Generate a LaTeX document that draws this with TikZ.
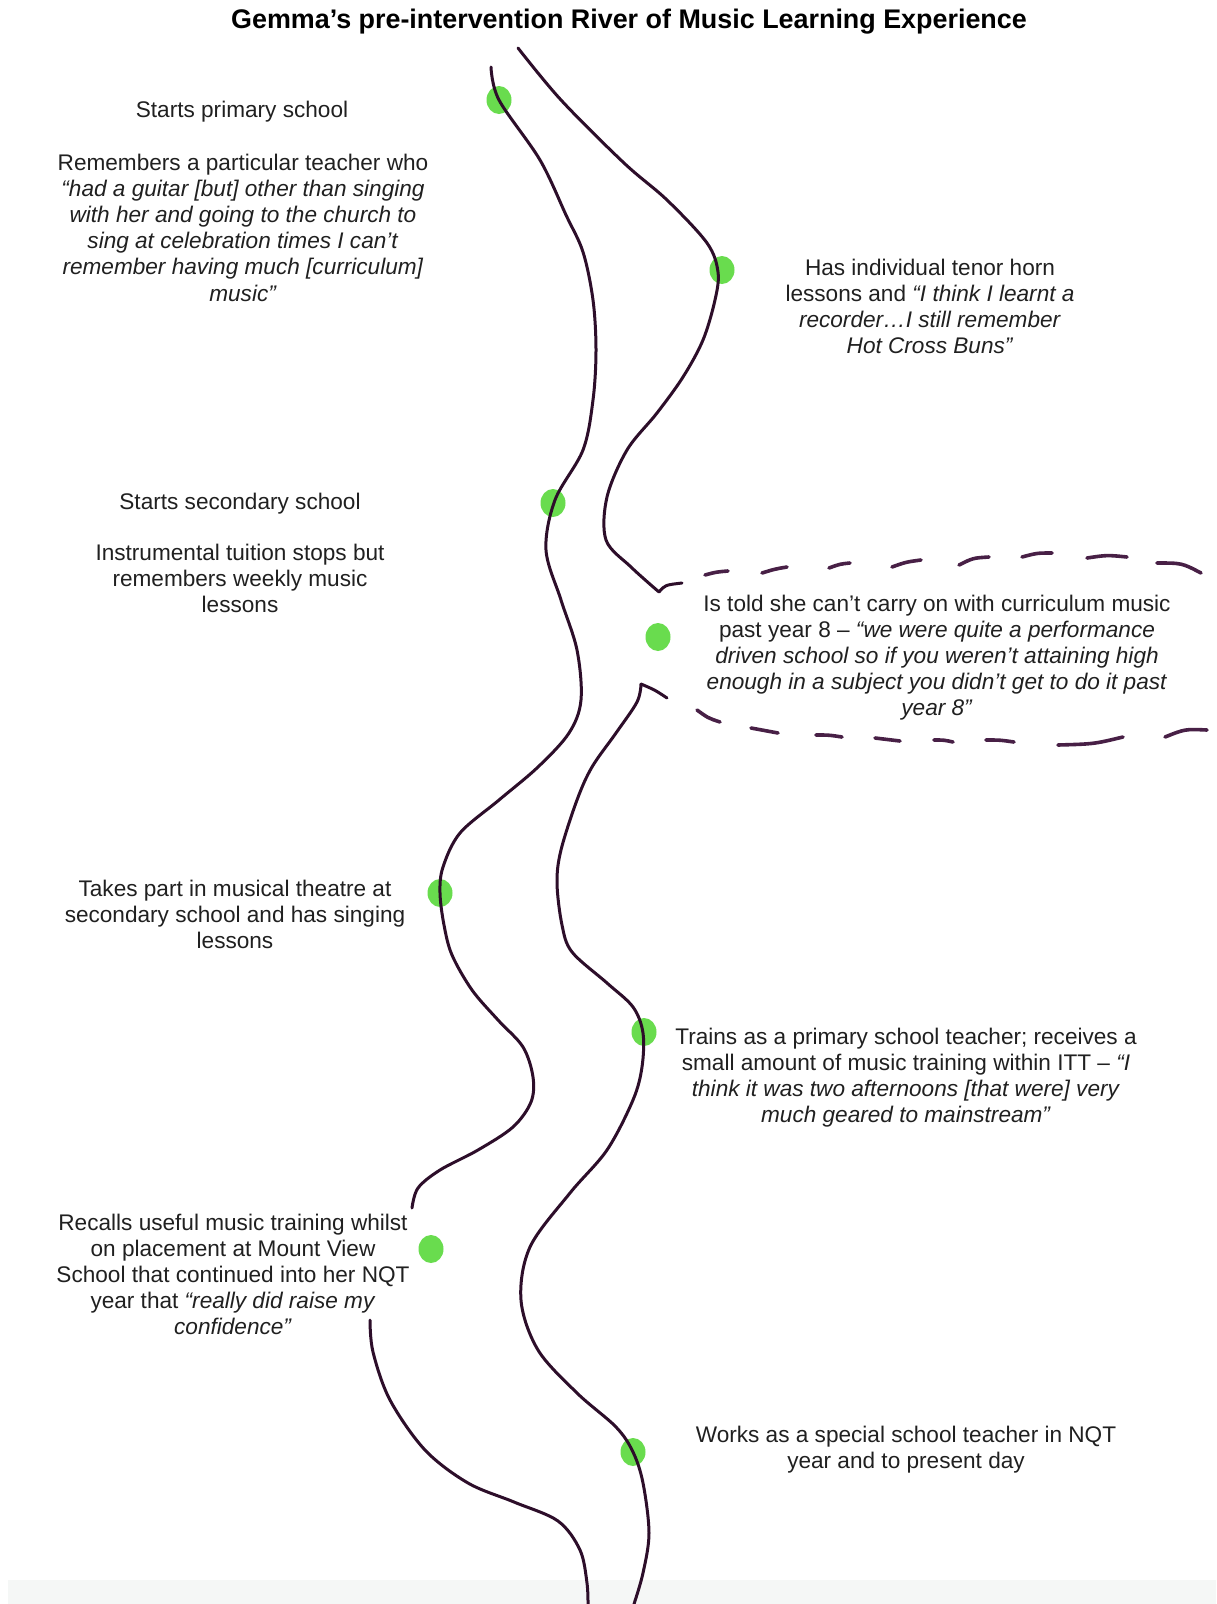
\documentclass[tikz,border=0pt]{standalone}
\usepackage{fontspec}
\setmainfont{Liberation Sans}
\usetikzlibrary{shapes.geometric}
\definecolor{riverc}{RGB}{45,14,42}
\definecolor{dashc}{RGB}{72,32,70}
\definecolor{dotc}{RGB}{105,220,78}
\definecolor{txtc}{RGB}{32,32,32}
\definecolor{bandc}{RGB}{245,247,246}
\tikzset{
  river/.style={draw=riverc, line width=3pt, line cap=round, line join=round},
  tribdash/.style={draw=dashc, line width=3.6pt, line cap=round},
  evdot/.style={ellipse, fill=dotc, draw=none, minimum width=25pt, minimum height=28pt, inner sep=0pt},
  label/.style={align=center, anchor=north, inner sep=0pt, text=txtc, font=\fontsize{22.6}{26.1}\selectfont},
  titlestyle/.style={inner sep=0pt, text=black, font=\fontsize{26.9}{31}\selectfont\bfseries}
}
\begin{document}
\begin{tikzpicture}[x=1pt,y=-1pt]
\useasboundingbox (0,0) rectangle (1216,1604);
\fill[white] (0,0) rectangle (1216,1604);
\fill[bandc] (8,1580) rectangle (1216,1604);

% title
\node[titlestyle] (title) at (629,22) {Gemma’s pre-intervention River of Music Learning Experience};

% event dots
\node[evdot] (d1) at (499,100) {};
\node[evdot] (d2) at (722,270) {};
\node[evdot] (d3) at (553,503) {};
\node[evdot] (d4) at (658,637) {};
\node[evdot] (d5) at (440,893) {};
\node[evdot] (d6) at (644,1032) {};
\node[evdot] (d7) at (431,1249) {};
\node[evdot] (d8) at (633,1452) {};

% left bank, upper part
\draw[river] plot[smooth, tension=0.55] coordinates {
 (491,67) (499,100) (540,160) (566,215) (583,252) (593,300) (596,350) (593,400)
 (583,450) (555,500) (546,550) (561,600) (577,650) (581,700) (569,733)
 (538,767) (499,800) (460,833) (443,867) (440,893) (444,925) (452,955) (472,990)
 (498,1020) (523,1047) (533,1077) (531,1102) (513,1127) (478,1150) (440,1170) (418,1188) (412,1208)};

% right bank, upper part with notch
\draw[river] plot[smooth, tension=0.55] coordinates {
 (518,48) (561,100) (624,163) (667,200) (707,243) (718,272) (715,300)
 (703,340) (683,377) (657,413) (627,450) (607,497) (606,540) (631,567) (659,592)}
 .. controls (665,585) .. (682,583);

% right bank, lower part with notch
\draw[river] (667,698) .. controls (655,690) .. (641,684)
 plot[smooth, tension=0.55] coordinates {
 (641,684) (637,702) (616,733) (592,767) (577,800) (561,850) (557,883)
 (562,925) (572,952) (607,983) (633,1007) (643,1033) (642,1067) (633,1100)
 (607,1150) (570,1193) (530,1247) (521,1300) (538,1350)
 (577,1393) (616,1427) (633,1452) (643,1483) (649,1533) (643,1573) (634,1604)};

% left bank, lower part
\draw[river] plot[smooth, tension=0.55] coordinates {
 (370,1320) (373,1352) (390,1400) (425,1450) (468,1483) (514,1502)
 (558,1521) (580,1550) (587,1583) (588,1606)};

% tributary (dashed, hand drawn)
\draw[tribdash] (705,575) .. controls (716,572) .. (728,571);
\draw[tribdash] (762,573) .. controls (775,569) .. (787,567);
\draw[tribdash] (829,568) .. controls (840,564) .. (850,563);
\draw[tribdash] (892,567) .. controls (906,562) .. (921,560);
\draw[tribdash] (959,565) .. controls (973,558) .. (989,557);
\draw[tribdash] (1022,557) .. controls (1037,553) .. (1052,553);
\draw[tribdash] (1087,558) .. controls (1107,555) .. (1127,557);
\draw[tribdash] (1157,563) .. controls (1182,563) .. (1201,573);

\draw[tribdash] (697,710) .. controls (708,718) .. (720,722);
\draw[tribdash] (751,728) .. controls (765,730) .. (778,733);
\draw[tribdash] (816,735) .. controls (829,735) .. (842,737);
\draw[tribdash] (875,738) .. controls (888,739) .. (900,741);
\draw[tribdash] (934,740) .. controls (944,740) .. (953,742);
\draw[tribdash] (986,740) .. controls (1000,740) .. (1014,742);
\draw[tribdash] (1058,745) .. controls (1094,744) .. (1123,737);
\draw[tribdash] (1165,737) .. controls (1185,729) .. (1207,730);

% labels
\node[label] (t1) at (242,101) {Starts primary school};
\node[label] (t2) at (243,154) {Remembers a particular teacher who\\
 \textit{“had a guitar [but] other than singing}\\
 \textit{with her and going to the church to}\\
 \textit{sing at celebration times I can’t}\\
 \textit{remember having much [curriculum]}\\
 \textit{music”}};
\node[label] (t3) at (930,259) {Has individual tenor horn\\
 lessons and \textit{“I think I learnt a}\\
 \textit{recorder…I still remember}\\
 \textit{Hot Cross Buns”}};
\node[label] (t4) at (240,493) {Starts secondary school};
\node[label] (t5) at (240,544) {Instrumental tuition stops but\\
 remembers weekly music\\
 lessons};
\node[label] (t6) at (937,595) {Is told she can’t carry on with curriculum music\\
 past year 8 – \textit{“we were quite a performance}\\
 \textit{driven school so if you weren’t attaining high}\\
 \textit{enough in a subject you didn’t get to do it past}\\
 \textit{year 8”}};
\node[label] (t7) at (235,880) {Takes part in musical theatre at\\
 secondary school and has singing\\
 lessons};
\node[label] (t8) at (906,1028) {Trains as a primary school teacher; receives a\\
 small amount of music training within ITT – \textit{“I}\\
 \textit{think it was two afternoons [that were] very}\\
 \textit{much geared to mainstream”}};
\node[label] (t9) at (233,1214) {Recalls useful music training whilst\\
 on placement at Mount View\\
 School that continued into her NQT\\
 year that \textit{“really did raise my}\\
 \textit{confidence”}};
\node[label] (t10) at (906,1426) {Works as a special school teacher in NQT\\
 year and to present day};
\end{tikzpicture}
\end{document}
